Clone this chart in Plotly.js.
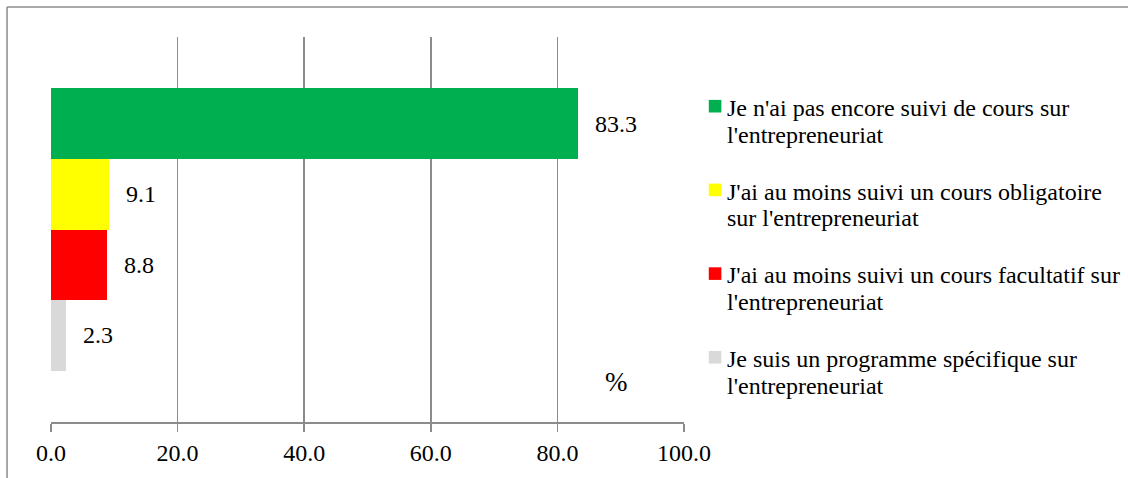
<!DOCTYPE html>
<html>
<head>
<meta charset="utf-8">
<script src="https://cdn.plot.ly/plotly-3.0.1.min.js"></script>
<style>html,body{margin:0;padding:0;background:#fff;}</style>
</head>
<body>
<div id="chart" style="width:1128px;height:478px;"></div>
<script>
const labelLines = [
  ["Je n'ai pas encore suivi de cours sur", "l'entrepreneuriat"],
  ["J'ai au moins suivi un cours obligatoire", "sur l'entrepreneuriat"],
  ["J'ai au moins suivi un cours facultatif sur", "l'entrepreneuriat"],
  ["Je suis un programme spécifique sur", "l'entrepreneuriat"]
];
const values = [83.3, 9.1, 8.8, 2.3];
const positions = [3, 2, 1, 0];
const colors = ["#00B050", "#FFFF00", "#FF0000", "#D9D9D9"];
const tickVals = [0, 20, 40, 60, 80, 100];
const unitLabel = "%";

const W = 1128, H = 478;
const L = 51, R = 443.5, T = 37, B = 56;
const pw = W - L - R, ph = H - T - B;
const px = v => (v - L) / pw;
const py = v => (H - B - v) / ph;

const FONT = "Liberation Serif, Times New Roman, serif";
const FS = 24;

const traces = labelLines.map((lines, i) => ({
  type: "bar",
  orientation: "h",
  name: lines.join(" "),
  x: [values[i]],
  y: [positions[i]],
  width: 1,
  marker: {color: colors[i], line: {width: 0}},
  showlegend: false,
  hoverinfo: "x"
}));

const annotations = values.map((v, i) => ({
  x: v, y: positions[i], xref: "x", yref: "y",
  text: v.toFixed(1), showarrow: false,
  xanchor: "left", yanchor: "middle", xshift: 15,
  font: {family: FONT, size: FS, color: "#000"}
}));
annotations.push({
  x: 89.35, y: -0.663, xref: "x", yref: "y",
  text: unitLabel, showarrow: false,
  xanchor: "center", yanchor: "middle",
  font: {family: FONT, size: 27, color: "#000"}
});

const shapes = [
  {type: "line", xref: "paper", yref: "paper", x0: px(7), x1: px(7), y0: py(7), y1: py(490), line: {color: "#8c8c8c", width: 1.5}},
  {type: "line", xref: "paper", yref: "paper", x0: px(7), x1: px(1140), y0: py(7), y1: py(7), line: {color: "#8c8c8c", width: 1.5}}
];

// custom legend
const legSquareX = 709.3, legSquareSize = 12.6, legTextX = 726;
const legSquareY0 = 106.2, legLine1Y0 = 108.0, legLineGap = 26.6, legStep = 83.7;
labelLines.forEach((lines, i) => {
  const cy = legSquareY0 + i * legStep;
  shapes.push({
    type: "rect", xref: "paper", yref: "paper",
    x0: px(legSquareX), x1: px(legSquareX + legSquareSize),
    y0: py(cy - legSquareSize / 2), y1: py(cy + legSquareSize / 2),
    fillcolor: colors[i], line: {width: 0}
  });
  lines.forEach((t, j) => {
    annotations.push({
      x: px(legTextX), y: py(legLine1Y0 + i * legStep + j * legLineGap),
      xref: "paper", yref: "paper",
      text: t, showarrow: false,
      xanchor: "left", yanchor: "middle",
      font: {family: FONT, size: FS, color: "#000"}
    });
  });
});

const layout = {
  width: W, height: H,
  margin: {l: L, r: R, t: T, b: B, pad: 0},
  paper_bgcolor: "#fff", plot_bgcolor: "#fff",
  barmode: "overlay",
  bargap: 0,
  showlegend: false,
  font: {family: FONT, size: FS, color: "#000"},
  xaxis: {
    range: [0, 100],
    tickvals: tickVals,
    tickformat: ".1f",
    showgrid: true, gridcolor: "#8c8c8c", gridwidth: 1.7,
    zeroline: false,
    showline: true, linecolor: "#8c8c8c", linewidth: 1.7,
    ticks: "outside", ticklen: 8, tickcolor: "#8c8c8c", tickwidth: 1.7,
    tickfont: {family: FONT, size: FS, color: "#000"},
    fixedrange: true
  },
  yaxis: {
    range: [-1.23, 4.23],
    showticklabels: false,
    showgrid: false, zeroline: false, showline: false,
    ticks: "",
    fixedrange: true
  },
  annotations: annotations,
  shapes: shapes
};

Plotly.newPlot("chart", traces, layout, {displayModeBar: false, staticPlot: true});
</script>
</body>
</html>
